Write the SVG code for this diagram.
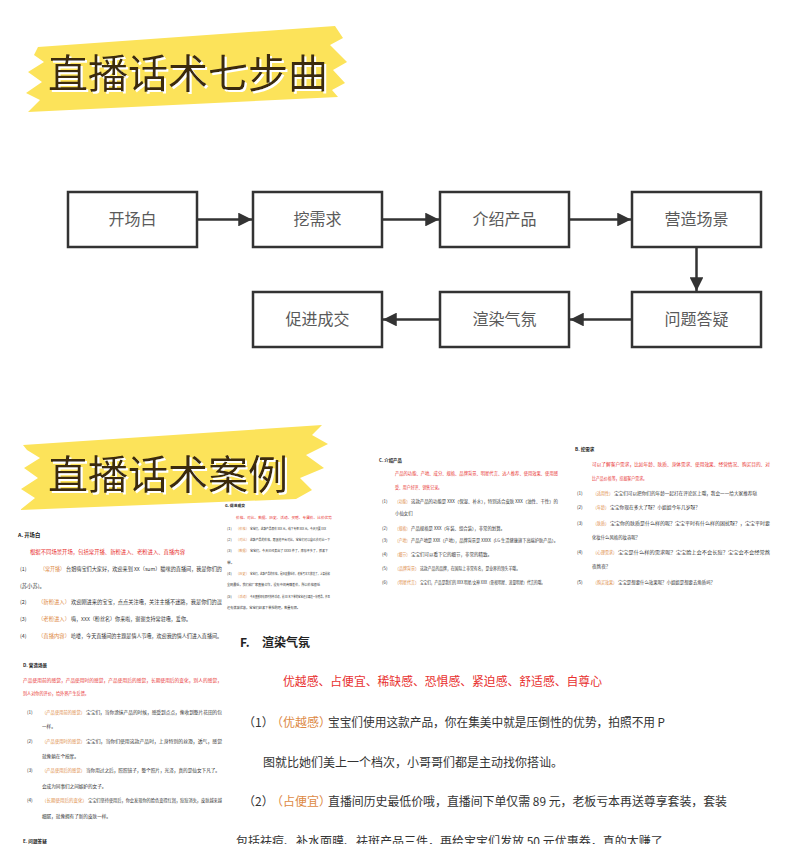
<svg xmlns="http://www.w3.org/2000/svg" width="800" height="844" viewBox="0 0 800 844">
<defs>
<style>
.box{fill:#fff;stroke:#333;stroke-width:2.5}
.lbl{font-family:"Noto Sans CJK SC",sans-serif;font-size:16px;fill:#5a5a5a;text-anchor:middle}
.ttl{font-family:"Noto Sans CJK SC",sans-serif;font-size:40px;font-weight:400;fill:#3b2a10;filter:url(#wsh)}
.con{stroke:#333;stroke-width:2.5;fill:none}
.hd{font-family:"Noto Sans CJK SC",sans-serif;font-weight:700;fill:#222}
.red{font-family:"Noto Sans CJK SC",sans-serif;fill:#e8312f}
.org{font-family:"Noto Sans CJK SC",sans-serif;fill:#dd8a45}
.blk{font-family:"Noto Sans CJK SC",sans-serif;fill:#333}
.yel{fill:#fce35a}
</style>
<filter id="wsh" x="-5%" y="-20%" width="115%" height="150%">
<feDropShadow dx="2" dy="2" stdDeviation="0" flood-color="#ffffff" flood-opacity="1"/>
</filter>
<marker id="arr" viewBox="0 0 10 10" refX="10" refY="5" markerWidth="6" markerHeight="5.5" orient="auto" markerUnits="strokeWidth">
<path d="M0,0 L10,5 L0,10 z" fill="#333"/>
</marker>
</defs>
<rect width="800" height="844" fill="#fff"/>

<g id="title-1">
<polygon class="yel" points="38,47 335,26 343,38 330,45 347,62 333,70 345,83 332,90 338,97 28,112 40,100 26,93 42,82 28,72 44,62 34,55"/>
<text class="ttl" x="48" y="88">直播话术七步曲</text>
</g>

<g id="node-kaichangbai"><rect class="box" x="68" y="192" width="129" height="55"/><text class="lbl" x="132.5" y="225">开场白</text></g>
<g id="node-waxuqiu"><rect class="box" x="253" y="192" width="129" height="55"/><text class="lbl" x="317.5" y="225">挖需求</text></g>
<g id="node-jieshao"><rect class="box" x="440" y="192" width="129" height="55"/><text class="lbl" x="504.5" y="225">介绍产品</text></g>
<g id="node-yingzao"><rect class="box" x="632" y="192" width="129" height="55"/><text class="lbl" x="696.5" y="225">营造场景</text></g>
<g id="node-dayi"><rect class="box" x="632" y="292" width="129" height="55"/><text class="lbl" x="696.5" y="325">问题答疑</text></g>
<g id="node-xuanran"><rect class="box" x="440" y="292" width="129" height="55"/><text class="lbl" x="504.5" y="325">渲染气氛</text></g>
<g id="node-cujin"><rect class="box" x="253" y="292" width="129" height="55"/><text class="lbl" x="317.5" y="325">促进成交</text></g>

<g id="connectors">
<line class="con" x1="198" y1="219.5" x2="252" y2="219.5" marker-end="url(#arr)"/>
<line class="con" x1="383" y1="219.5" x2="439" y2="219.5" marker-end="url(#arr)"/>
<line class="con" x1="570" y1="219.5" x2="631" y2="219.5" marker-end="url(#arr)"/>
<line class="con" x1="696.5" y1="248" x2="696.5" y2="291" marker-end="url(#arr)"/>
<line class="con" x1="631" y1="319.5" x2="570" y2="319.5" marker-end="url(#arr)"/>
<line class="con" x1="439" y1="319.5" x2="383" y2="319.5" marker-end="url(#arr)"/>
</g>

<g id="title-2">
<polygon class="yel" points="23,445 322,425 312,435 328,444 306,455 324,468 300,478 312,490 296,499 20,510 35,498 21,489 38,478 24,468 40,458 27,450"/>
<text class="ttl" x="48" y="489">直播话术案例</text>
</g>

<g id="doc-a" font-size="5.3">
<text class="hd" x="18" y="537">A.  开场白</text>
<text class="red" x="30" y="554" textLength="155" lengthAdjust="spacingAndGlyphs">根据不同场景开场，包括常开播、新粉进入、老粉进入、直播内容</text>
<text class="blk" x="20" y="571">(1)</text>
<text class="org" x="40" y="571" textLength="25" lengthAdjust="spacingAndGlyphs">（常开播）</text>
<text class="blk" x="66" y="571" textLength="156" lengthAdjust="spacingAndGlyphs">台姐嗨宝们大家好，欢迎来到 XX（sum）猫咪的直播间，我是你们的</text>
<text class="blk" x="20" y="588">(苏小苏)。</text>
<text class="blk" x="20" y="604">(2)</text>
<text class="org" x="38" y="604" textLength="32" lengthAdjust="spacingAndGlyphs">（新粉进入）</text>
<text class="blk" x="71" y="604" textLength="151" lengthAdjust="spacingAndGlyphs">欢迎刚进来的宝宝，点点关注哦，关注主播不迷路，我是你们的逗</text>
<text class="blk" x="20" y="621">(3)</text>
<text class="org" x="38" y="621" textLength="32" lengthAdjust="spacingAndGlyphs">（老粉进入）</text>
<text class="blk" x="71" y="621" textLength="120" lengthAdjust="spacingAndGlyphs">嗨，XXX（粉丝名）你来啦，谢谢支持常驻哦，爱你。</text>
<text class="blk" x="20" y="638">(4)</text>
<text class="org" x="38" y="638" textLength="32" lengthAdjust="spacingAndGlyphs">（直播内容）</text>
<text class="blk" x="71" y="638" textLength="151" lengthAdjust="spacingAndGlyphs">哈喽，今天直播间的主题是情人节哦，欢迎我的情人们进入直播间。</text>
</g>

<g id="doc-d" font-size="4.6">
<text class="hd" x="23" y="667">D.  营造场景</text>
<text class="red" x="23" y="682" textLength="199" lengthAdjust="spacingAndGlyphs">产品使用前的感觉，产品使用时的感觉，产品使用后的感觉，长期使用后的变化，别人的感觉，</text>
<text class="red" x="23" y="695" textLength="66" lengthAdjust="spacingAndGlyphs">别人对你的评价，给外界产生反馈。</text>
<text class="blk" x="27" y="714">(1)</text>
<text class="org" x="42" y="714" textLength="43" lengthAdjust="spacingAndGlyphs">（产品使用前的感觉）</text>
<text class="blk" x="86" y="714" textLength="136" lengthAdjust="spacingAndGlyphs">宝宝们，当你涂抹产品的时候，感受到点点，像收到整片花田的包</text>
<text class="blk" x="42" y="728">一样。</text>
<text class="blk" x="27" y="743">(2)</text>
<text class="org" x="42" y="743" textLength="43" lengthAdjust="spacingAndGlyphs">（产品使用时的感觉）</text>
<text class="blk" x="86" y="743" textLength="136" lengthAdjust="spacingAndGlyphs">宝宝们，当你们使用这款产品时，上身特别的丝滑，透气，感觉</text>
<text class="blk" x="42" y="758">就像躺在个按摩。</text>
<text class="blk" x="27" y="772">(3)</text>
<text class="org" x="42" y="772" textLength="43" lengthAdjust="spacingAndGlyphs">（产品使用后的感觉）</text>
<text class="blk" x="86" y="772" textLength="134" lengthAdjust="spacingAndGlyphs">当你用过之后，照照镜子，整个照片，光泽，真的是仙女下凡了。</text>
<text class="blk" x="42" y="788">会成为同事们之间嫉妒的女子。</text>
<text class="blk" x="27" y="802">(4)</text>
<text class="org" x="42" y="802" textLength="45" lengthAdjust="spacingAndGlyphs">（长期使用后的变化）</text>
<text class="blk" x="88" y="802" textLength="134" lengthAdjust="spacingAndGlyphs">宝宝们坚持使用后，你会发现你的脸色变得红润，痘痘消失，皮肤越来越</text>
<text class="blk" x="42" y="818">细腻，就像拥有了新的皮肤一样。</text>
<text class="hd" x="23" y="843">E.  问题答疑</text>
</g>

<g id="doc-g" font-size="3.8">
<text class="hd" x="225" y="507">G.  促进成交</text>
<text class="red" x="236" y="519" textLength="96" lengthAdjust="spacingAndGlyphs">价格、对比、数据、历史、活动、买赠、专属价、比价优势</text>
<text class="blk" x="227" y="530">(1)</text>
<text class="org" x="236" y="530" textLength="13" lengthAdjust="spacingAndGlyphs">（价格）</text>
<text class="blk" x="250" y="530" textLength="76" lengthAdjust="spacingAndGlyphs">宝宝们，这款产品原价 XXX 元，线下专柜 XXX 元，今天只要 XXX</text>
<text class="blk" x="227" y="541">(2)</text>
<text class="org" x="236" y="541" textLength="13" lengthAdjust="spacingAndGlyphs">（对比）</text>
<text class="blk" x="250" y="541" textLength="80" lengthAdjust="spacingAndGlyphs">这款产品的价格，跟其他平台对比，宝宝们可以自己去对比一下</text>
<text class="blk" x="227" y="552">(3)</text>
<text class="org" x="236" y="552" textLength="13" lengthAdjust="spacingAndGlyphs">（数据）</text>
<text class="blk" x="250" y="552" textLength="78" lengthAdjust="spacingAndGlyphs">宝宝们，今天已经卖出了 XXXX 件了，库存不多了，抓紧下</text>
<text class="blk" x="227" y="564">单。</text>
<text class="blk" x="227" y="575">(4)</text>
<text class="org" x="236" y="575" textLength="13" lengthAdjust="spacingAndGlyphs">（历史）</text>
<text class="blk" x="250" y="575" textLength="80" lengthAdjust="spacingAndGlyphs">宝宝们，这款产品的价格，是历史最低价，老板亏本大放送了，上架前和</text>
<text class="blk" x="227" y="586" textLength="93" lengthAdjust="spacingAndGlyphs">全网最低，我们和厂家直接合作，没有中间商赚差价，所以价格很低</text>
<text class="blk" x="227" y="598">(5)</text>
<text class="org" x="236" y="598" textLength="13" lengthAdjust="spacingAndGlyphs">（活动）</text>
<text class="blk" x="250" y="598" textLength="80" lengthAdjust="spacingAndGlyphs">今天直播间有限时秒杀活动，前 XX 名下单的宝宝还会再送一份赠品，并且</text>
<text class="blk" x="227" y="609" textLength="73" lengthAdjust="spacingAndGlyphs">还有满减优惠，宝宝们赶紧下单抢购吧，数量有限。</text>
</g>

<g id="doc-c" font-size="4.4">
<text class="hd" x="379" y="462">C.  介绍产品</text>
<text class="red" x="395" y="475" textLength="163" lengthAdjust="spacingAndGlyphs">产品的功能、产地、成分、规格、品牌背景、明星代言、达人推荐、使用效果、使用感</text>
<text class="red" x="395" y="489" textLength="47" lengthAdjust="spacingAndGlyphs">受、用户好评、销售记录。</text>
<text class="blk" x="382" y="503">(1)</text>
<text class="org" x="395" y="503" textLength="15" lengthAdjust="spacingAndGlyphs">（功能）</text>
<text class="blk" x="411" y="503" textLength="147" lengthAdjust="spacingAndGlyphs">这款产品的功能是 XXX（保湿、补水），特别适合皮肤 XXX（油性、干性）的</text>
<text class="blk" x="395" y="515">小仙女们</text>
<text class="blk" x="382" y="530">(2)</text>
<text class="org" x="395" y="530" textLength="15" lengthAdjust="spacingAndGlyphs">（规格）</text>
<text class="blk" x="411" y="530" textLength="94" lengthAdjust="spacingAndGlyphs">产品规格是 XXX（年装、组合装），非常的划算。</text>
<text class="blk" x="382" y="542">(3)</text>
<text class="org" x="395" y="542" textLength="15" lengthAdjust="spacingAndGlyphs">（产地）</text>
<text class="blk" x="411" y="542" textLength="147" lengthAdjust="spacingAndGlyphs">产品产地是 XXX（产地），品牌背景是 XXXX（LG 生活健康旗下高端护肤产品）。</text>
<text class="blk" x="382" y="556">(4)</text>
<text class="org" x="395" y="556" textLength="15" lengthAdjust="spacingAndGlyphs">（细节）</text>
<text class="blk" x="411" y="556" textLength="81" lengthAdjust="spacingAndGlyphs">宝宝们可以看下它的细节，非常的精致。</text>
<text class="blk" x="382" y="570">(5)</text>
<text class="org" x="395" y="570" textLength="24" lengthAdjust="spacingAndGlyphs">（品牌背景）</text>
<text class="blk" x="420" y="570" textLength="100" lengthAdjust="spacingAndGlyphs">这款产品的品牌，在国际上非常有名，是业界的领头羊哦。</text>
<text class="blk" x="382" y="584">(6)</text>
<text class="org" x="395" y="584" textLength="24" lengthAdjust="spacingAndGlyphs">（明星代言）</text>
<text class="blk" x="420" y="584" textLength="125" lengthAdjust="spacingAndGlyphs">宝宝们，产品是我们的 XXX 明星/女神 XXX（影视明星、流量明星）代言的哦。</text>
</g>

<g id="doc-b" font-size="4.6">
<text class="hd" x="575" y="451">B.  挖需求</text>
<text class="red" x="592" y="466" textLength="178" lengthAdjust="spacingAndGlyphs">可以了解客户需求，比如年龄、肤质、身体需求、使用效果、经营情况、购买目的、对</text>
<text class="red" x="592" y="480" textLength="55" lengthAdjust="spacingAndGlyphs">比产品价格等，挖掘客户需求。</text>
<text class="blk" x="577" y="495">(1)</text>
<text class="org" x="593" y="495" textLength="20" lengthAdjust="spacingAndGlyphs">（适用性）</text>
<text class="blk" x="614" y="495" textLength="143" lengthAdjust="spacingAndGlyphs">宝宝们可以把你们的年龄一起打在评论区上哦，我会一一给大家推荐哒</text>
<text class="blk" x="577" y="509">(2)</text>
<text class="org" x="593" y="509" textLength="16" lengthAdjust="spacingAndGlyphs">（年龄）</text>
<text class="blk" x="610" y="509" textLength="90" lengthAdjust="spacingAndGlyphs">宝宝你现在多大了呀？小姐姐今年几岁呀？</text>
<text class="blk" x="577" y="525">(3)</text>
<text class="org" x="593" y="525" textLength="16" lengthAdjust="spacingAndGlyphs">（肤质）</text>
<text class="blk" x="610" y="525" textLength="160" lengthAdjust="spacingAndGlyphs">宝宝你的肤质是什么样的呢？宝宝平时有什么样的困扰呀？，宝宝平时要</text>
<text class="blk" x="592" y="539" textLength="48" lengthAdjust="spacingAndGlyphs">化妆什么风格的妆容呢？</text>
<text class="blk" x="577" y="554">(4)</text>
<text class="org" x="593" y="554" textLength="24" lengthAdjust="spacingAndGlyphs">（心理需求）</text>
<text class="blk" x="618" y="554" textLength="152" lengthAdjust="spacingAndGlyphs">宝宝是什么样的需求呢？宝宝脸上会不会长痘？宝宝会不会经常熬</text>
<text class="blk" x="592" y="568">夜熬夜？</text>
<text class="blk" x="577" y="584">(5)</text>
<text class="org" x="593" y="584" textLength="24" lengthAdjust="spacingAndGlyphs">（购买效果）</text>
<text class="blk" x="618" y="584" textLength="97" lengthAdjust="spacingAndGlyphs">宝宝是想要什么效果呢？小姐姐是想要去角质吗？</text>
</g>

<g id="doc-f">
<rect x="232" y="622" width="568" height="222" fill="#fff"/>
<text class="hd" x="240" y="647" font-size="12">F.</text>
<text class="hd" x="262" y="647" font-size="12">渲染气氛</text>
<text class="red" x="283" y="686" font-size="12" textLength="319" lengthAdjust="spacingAndGlyphs">优越感、占便宜、稀缺感、恐惧感、紧迫感、舒适感、自尊心</text>
<text class="blk" x="243" y="727" font-size="12">（1）</text>
<text class="org" x="271" y="727" font-size="12">（优越感）</text>
<text class="blk" x="328" y="727" font-size="12" textLength="337" lengthAdjust="spacingAndGlyphs">宝宝们使用这款产品，你在集美中就是压倒性的优势，拍照不用 P</text>
<text class="blk" x="263" y="767" font-size="12">图就比她们美上一个档次，小哥哥们都是主动找你搭讪。</text>
<text class="blk" x="243" y="806" font-size="12">（2）</text>
<text class="org" x="271" y="806" font-size="12">（占便宜）</text>
<text class="blk" x="328" y="806" font-size="12" textLength="399" lengthAdjust="spacingAndGlyphs">直播间历史最低价哦，直播间下单仅需 89 元，老板亏本再送尊享套装，套装</text>
<text class="blk" x="236" y="846" font-size="12">包括祛痘、补水面膜、祛斑产品三件，再给宝宝们发放 50 元优惠券，真的太赚了</text>
</g>
</svg>
